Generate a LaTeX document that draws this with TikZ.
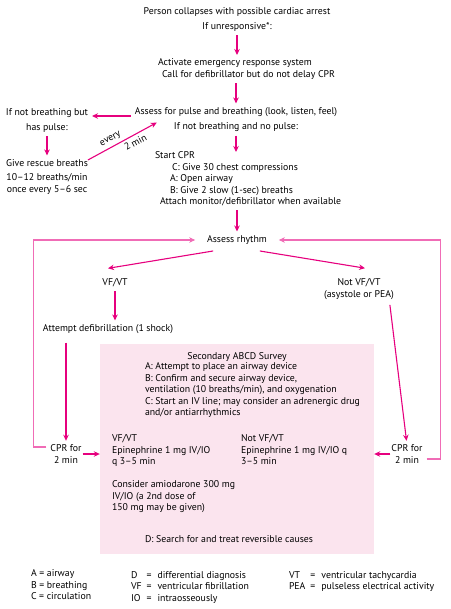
\documentclass[tikz,border=0pt]{standalone}
\usepackage{fontspec}
\setmainfont{PT Sans}
\usepackage{xcolor}
\usepackage{tikz}
\usetikzlibrary{arrows.meta, calc}

\definecolor{arrowpink}{HTML}{E6007E}
\definecolor{looppink}{HTML}{F06CB6}
\definecolor{boxpink}{HTML}{FBE4EE}

\tikzset{
  txt/.style={inner sep=0pt, outer sep=0pt, font=\fontsize{9.8}{11.5}\selectfont},
  arr/.style={draw=arrowpink, line width=1.1pt, -{Stealth[length=6pt,width=5.5pt]},
    shorten >=4pt, shorten <=4pt},
  loopline/.style={draw=looppink, line width=1.3pt, -{Stealth[length=6pt,width=5.5pt]},
    shorten >=12pt, shorten <=4pt},
  surveybox/.style={fill=boxpink, draw=none, minimum width=274pt, minimum height=210pt,
    inner sep=0pt}
}

\begin{document}
\begin{tikzpicture}[x=1pt, y=-1pt]
  \useasboundingbox (0,0) rectangle (450,609);

  % survey box first, so the text sits on top
  \node[surveybox] (survey) at (237,449) {};

  % top of the chart
  \node[txt] (collapse) at (237,12) {Person collapses with possible cardiac arrest};
  \node[txt] (unresp) at (237,27) {If unresponsive*:};
  \node[txt, align=left, anchor=north west] (activate) at (158,59)
    {Activate emergency response system\\\hspace*{4pt}Call for defibrillator but do not delay CPR};
  \node[txt] (assess) at (236,112) {Assess for pulse and breathing (look, listen, feel)};
  \node[txt] (nopulse) at (236,127) {If not breathing and no pulse:};

  % left branch: pulse but no breathing
  \node[txt, align=center] (haspulse) at (47,120.5) {If not breathing but\\[3.5pt]has pulse:};
  \node[txt] (rescue) at (47,163) {Give rescue breaths};
  \node[txt, align=center] (rate) at (47,184) {10--12 breaths/min\\once every 5--6 sec};

  % CPR block
  \node[txt, align=left, anchor=north west] (cpr) at (155,152)
    {Start CPR\\
     \hspace*{17pt}C: Give 30 chest compressions\\
     \hspace*{15pt}A: Open airway\\
     \hspace*{15pt}B: Give 2 slow (1-sec) breaths\\
     \hspace*{5pt}Attach monitor/defibrillator when available};
  \node[txt] (rhythm) at (237,240) {Assess rhythm};

  % rhythm branches
  \node[txt] (vf) at (115,283) {VF/VT};
  \node[txt, align=center] (notvf) at (359,289) {Not VF/VT\\(asystole or PEA)};
  \node[txt] (defib) at (108,329) {Attempt defibrillation (1 shock)};
  \node[txt, align=center] (cprl) at (66,454) {CPR for\\2 min};
  \node[txt, align=center] (cprr) at (407,454) {CPR for\\2 min};

  % inside the survey box
  \node[txt] (sectitle) at (237,357) {Secondary ABCD Survey};
  \node[txt, align=left, anchor=north west] (abc) at (145,363)
    {A: Attempt to place an airway device\\
     B: Confirm and secure airway device,\\
     ventilation (10 breaths/min), and oxygenation\\
     C: Start an IV line; may consider an adrenergic drug\\
     and/or antiarrhythmics};
  \node[txt, align=left, anchor=north west] (vfdrug) at (112,435)
    {VF/VT\\Epinephrine 1 mg IV/IO\\q 3--5 min};
  \node[txt, align=left, anchor=north west] (nvfdrug) at (241,435)
    {Not VF/VT\\Epinephrine 1 mg IV/IO q\\3--5 min};
  \node[txt, align=left, anchor=north west] (amio) at (112,481)
    {Consider amiodarone 300 mg\\IV/IO (a 2nd dose of\\150 mg may be given)};
  \node[txt, anchor=west] (dsearch) at (145,539) {D: Search for and treat reversible causes};

  % legend
  \node[txt, align=left, anchor=north west] (legA) at (31,570)
    {A = airway\\B = breathing\\C = circulation};
  \node[txt, anchor=north west] (legB) at (131,570)
    {\begin{tabular}{@{}l@{\hspace{5pt}}l@{\hspace{6pt}}l@{}}
     D & = & differential diagnosis\\
     VF & = & ventricular fibrillation\\
     IO & = & intraosseously
     \end{tabular}};
  \node[txt, anchor=north west] (legC) at (289,570)
    {\begin{tabular}{@{}l@{\hspace{5pt}}l@{\hspace{6pt}}l@{}}
     VT & = & ventricular tachycardia\\
     PEA & = & pulseless electrical activity
     \end{tabular}};

  % connectors
  \draw[arr] (unresp.south) -- (unresp.south |- activate.north);
  \draw[arr] (assess.north |- activate.south) -- (assess.north);
  \draw[arr] ([yshift=-4pt]assess.west) -- ([yshift=-4pt]assess.west -| haspulse.east);
  \draw[arr] (haspulse.south) -- (rescue.north);
  \draw[arr, shorten <=0pt, shorten >=0pt] ([yshift=3pt]rescue.east) -- ([shift={(22,6)}]assess.south west)
    node[txt, pos=.38, above=3.5pt, sloped] {every}
    node[txt, pos=.64, below=3.5pt, sloped] {2 min};
  \draw[arr, shorten >=0pt] (nopulse.south) -- (nopulse.south |- cpr.north);
  \draw[arr] (rhythm.north |- cpr.south) -- (rhythm.north);
  \draw[arr, shorten <=0pt, shorten >=0pt] ([shift={(6,6.5)}]rhythm.south west) -- ([shift={(-7,-10.5)}]vf.north);
  \draw[arr, shorten <=0pt, shorten >=0pt] ([shift={(-7,6.5)}]rhythm.south east) -- ([shift={(6,-10.5)}]notvf.north);
  \draw[arr] (vf.south) -- (vf.south |- defib.north);
  \draw[arr, shorten <=9pt] (cprl.north |- defib.south) -- (cprl.north);
  \draw[arr, shorten <=0pt] ([shift={(-4,5.5)}]notvf.south east) -- (cprr.north);
  \draw[arr, shorten <=1pt, shorten >=0pt] (cprl.east) -- (cprl.east -| survey.west);
  \draw[arr, shorten <=1pt, shorten >=0pt] (cprr.west) -- (cprr.west -| survey.east);

  % loops back to rhythm check
  \draw[loopline] ([yshift=7pt]cprl.west) -- ([xshift=-17pt,yshift=7pt]cprl.west) |- (rhythm.west);
  \draw[loopline] ([yshift=-5pt]cprr.east) -- ([xshift=18pt,yshift=-5pt]cprr.east) |- (rhythm.east);

\end{tikzpicture}
\end{document}
